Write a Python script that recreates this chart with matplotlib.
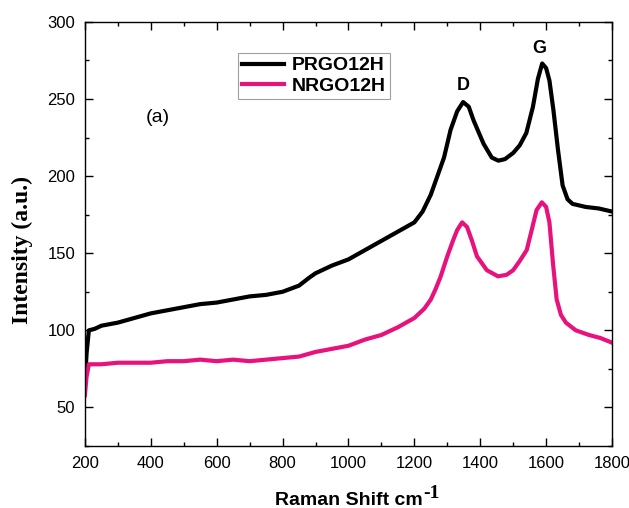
import matplotlib
matplotlib.use("Agg")
import matplotlib.pyplot as plt
from matplotlib.ticker import MultipleLocator

# values
prgo_x = [200, 205, 212, 230, 250, 300, 350, 400, 450, 500, 550, 600, 650, 700,
          750, 800, 850, 880, 900, 950, 1000, 1050, 1100, 1150, 1200, 1225, 1250,
          1270, 1290, 1310, 1330, 1348, 1365, 1380, 1410, 1435, 1455, 1475, 1500,
          1520, 1540, 1560, 1575, 1588, 1600, 1610, 1622, 1636, 1650, 1665, 1680,
          1720, 1760, 1800]
prgo_y = [66, 85, 100, 101, 103, 105, 108, 111, 113, 115, 117, 118, 120, 122,
          123, 125, 129, 134, 137, 142, 146, 152, 158, 164, 170, 177, 188,
          200, 212, 230, 242, 248, 245, 236, 221, 212, 210, 211, 215,
          220, 228, 245, 263, 273, 270, 262, 243, 217, 194, 185, 182,
          180, 179, 177]

nrgo_x = [200, 205, 212, 250, 300, 350, 400, 450, 500, 550, 600, 650, 700, 750,
          800, 850, 900, 950, 1000, 1050, 1100, 1150, 1200, 1230, 1250, 1265,
          1280, 1300, 1317, 1330, 1345, 1360, 1375, 1390, 1420, 1454, 1480, 1500,
          1520, 1541, 1555, 1571, 1587, 1600, 1610, 1621, 1632, 1645, 1660, 1690,
          1730, 1765, 1800]
nrgo_y = [58, 70, 78, 78, 79, 79, 79, 80, 80, 81, 80, 81, 80, 81,
          82, 83, 86, 88, 90, 94, 97, 102, 108, 114, 120, 127,
          135, 148, 158, 165, 170, 167, 158, 148, 139, 135, 136, 139,
          145, 152, 164, 178, 183, 180, 170, 143, 120, 110, 105, 100,
          97, 95, 92]

fig = plt.figure(figsize=(6.29, 5.08), dpi=100)
ax = fig.add_axes([0.135, 0.122, 0.838, 0.835])

ax.plot(prgo_x, prgo_y, color="black", lw=3, label="PRGO12H")
ax.plot(nrgo_x, nrgo_y, color="#e8127c", lw=3, label="NRGO12H")

ax.set_xlim(200, 1800)
ax.set_ylim(25, 300)
ax.xaxis.set_major_locator(MultipleLocator(200))
ax.xaxis.set_minor_locator(MultipleLocator(100))
ax.yaxis.set_major_locator(MultipleLocator(50))
ax.yaxis.set_minor_locator(MultipleLocator(25))
ax.tick_params(which="both", direction="in", top=True, right=True, width=1.0)
ax.tick_params(which="major", length=5.5, labelsize=12, pad=7)
ax.tick_params(which="minor", length=3)
for lab in ax.get_xticklabels() + ax.get_yticklabels():
    lab.set_family("Liberation Sans")
for sp in ax.spines.values():
    sp.set_linewidth(1.0)

# x label with a big serif superscript like the original
ax.set_xlabel("Raman Shift cm", family="Liberation Sans",
              fontweight="bold", fontsize=14, labelpad=15)
ax.annotate("-1", xy=(1, 1), xycoords=ax.xaxis.label, xytext=(1, 5),
            textcoords="offset points", ha="left", va="top",
            family="Liberation Serif", fontweight="bold", fontsize=14)
ax.set_ylabel("Intensity (a.u.)", family="Liberation Serif",
              fontweight="bold", fontsize=17, labelpad=10)
ax.yaxis.label.set_y(0.462)

ax.text(420, 238, "(a)", family="Liberation Sans", fontsize=14,
        ha="center", va="center")
ax.text(1347, 259, "D", family="Liberation Sans", fontsize=13,
        fontweight="bold", ha="center", va="center")
ax.text(1579, 283, "G", family="Liberation Sans", fontsize=13,
        fontweight="bold", ha="center", va="center")

leg = ax.legend(loc="upper left", bbox_to_anchor=(0.29, 0.927), fancybox=False,
                edgecolor="#888888", handlelength=2.2, borderpad=0.2,
                labelspacing=0.15, handletextpad=0.4, borderaxespad=0,
                prop={"family": "Liberation Sans", "weight": "bold", "size": 14})
leg.get_frame().set_linewidth(0.8)

fig.savefig("out.png", dpi=100)
